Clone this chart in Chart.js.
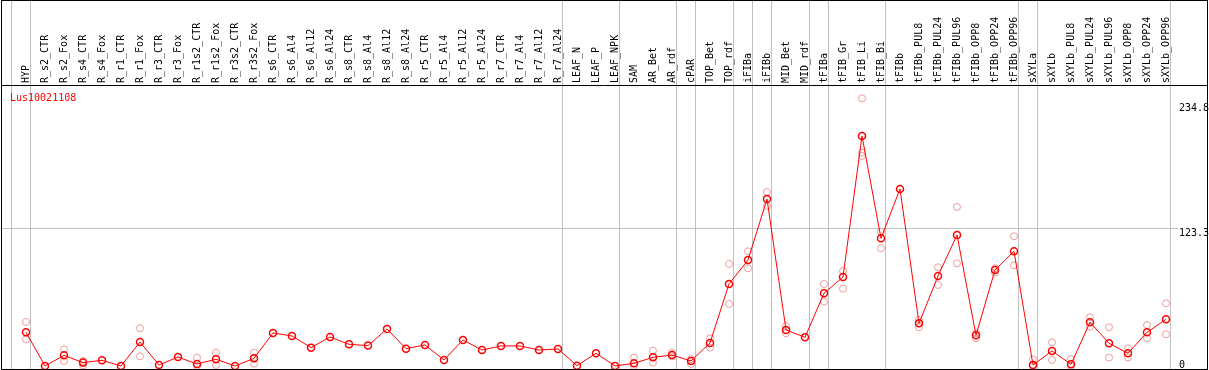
<!DOCTYPE html>
<html>
<head>
<meta charset="utf-8">
<script src="https://cdn.jsdelivr.net/npm/chart.js@4.4.1/dist/chart.umd.min.js"></script>
<style>
  html, body { margin: 0; padding: 0; background: #fff; }
  #wrap { width: 1209px; height: 370px; }
</style>
</head>
<body>
<div id="wrap"><canvas id="exprChart"></canvas></div>
<script>
// sample names, left to right
const samples = [
  'HYP',
  'R_s2_CTR', 'R_s2_Fox', 'R_s4_CTR', 'R_s4_Fox', 'R_r1_CTR', 'R_r1_Fox', 'R_r3_CTR', 'R_r3_Fox',
  'R_r1s2_CTR', 'R_r1s2_Fox', 'R_r3s2_CTR', 'R_r3s2_Fox',
  'R_s6_CTR', 'R_s6_Al4', 'R_s6_Al12', 'R_s6_Al24', 'R_s8_CTR', 'R_s8_Al4', 'R_s8_Al12', 'R_s8_Al24',
  'R_r5_CTR', 'R_r5_Al4', 'R_r5_Al12', 'R_r5_Al24', 'R_r7_CTR', 'R_r7_Al4', 'R_r7_Al12', 'R_r7_Al24',
  'LEAF_N', 'LEAF_P', 'LEAF_NPK', 'SAM', 'AR_Bet', 'AR_rdf', 'cPAR', 'TOP_Bet', 'TOP_rdf',
  'iFIBa', 'iFIBb', 'MID_Bet', 'MID_rdf', 'tFIBa', 'tFIB_Gr', 'tFIB_Li', 'tFIB_Bi',
  'tFIBb', 'tFIBb_PUL8', 'tFIBb_PUL24', 'tFIBb_PUL96', 'tFIBb_OPP8', 'tFIBb_OPP24', 'tFIBb_OPP96',
  'sXYLa', 'sXYLb', 'sXYLb_PUL8', 'sXYLb_PUL24', 'sXYLb_PUL96', 'sXYLb_OPP8', 'sXYLb_OPP24', 'sXYLb_OPP96'
];

// mean expression per sample
const meanValues = [
  30.1,
  0, 9.5, 3.0, 5.1, 0, 21.4, 0.9, 8.0,
  1.8, 6.0, 0, 6.8,
  29.5, 26.8, 16.4, 25.9, 19.4, 18.2, 33.1, 15.5,
  18.8, 5.4, 23.2, 14.3, 17.9, 17.9, 14.3, 15.2,
  0.3, 11.3, 0, 2.4, 7.7, 9.8, 4.5, 20.6, 73.3,
  94.7, 149.2, 32.2, 25.6, 65.0, 79.5, 205.5, 114.1,
  158.2, 38.1, 80.4, 117.1, 27.4, 85.8, 102.5,
  0.9, 13.4, 1.5, 39.1, 20.3, 11.3, 30.1, 41.7
];

// replicate values (null = not visible)
const rep1 = [
  39.3,
  null, 14.9, 4.5, null, null, 33.7, null, null,
  7.5, 11.9, null, 11.9,
  null, null, null, null, null, null, null, null,
  null, null, null, null, null, null, null, null,
  null, null, null, 7.5, 13.7, 11.9, 6.0, 24.7, 91.2,
  102.5, 155.5, 35.7, null, 73.3, 84.9, 239.2, 120.0,
  null, 41.1, 88.2, 142.1, 24.7, 87.3, 115.9,
  6.0, 21.2, 6.0, 43.5, 34.6, 15.8, 36.6, 56.0
];
const rep2 = [
  23.8,
  null, 4.5, 0.5, null, null, 8.6, null, null,
  0, 0.9, null, 2.1,
  null, null, null, null, null, null, null, null,
  null, null, null, null, null, null, null, null,
  null, null, null, 0, 3.0, 8.5, 1.8, 16.4, 55.4,
  87.3, 143.0, 29.2, null, 57.5, 69.1, 187.7, 105.2,
  null, 34.6, 72.4, 91.7, 29.2, 83.4, 90.0,
  0, 5.4, 0, 35.1, 7.5, 7.7, 24.7, 28.3
];
const rep3 = [
  null,
  null, null, null, null, null, null, null, null,
  null, null, null, null,
  null, null, null, null, null, null, null, null,
  null, null, null, null, null, null, null, null,
  null, null, null, null, null, null, null, null, null,
  null, null, null, null, null, null, 190.6, null,
  null, null, null, null, null, null, null,
  null, null, null, null, null, null, null, null
];

// a divider follows each of these sample indexes
const groupEnds = [-1, 0, 28, 31, 34, 35, 37, 38, 39, 41, 42, 45, 52, 53, 60];
const yTicks = [0, 123.3, 234.8];
const geneName = 'Lus10021108';

const FONT = { family: 'DejaVu Sans Mono', size: 10 };
const GRID = '#c0c0c0';

function toPoints(arr) {
  return arr.map((v, i) => ({ x: i, y: v }));
}

function noPadding(scale) {
  scale.paddingLeft = 0;
  scale.paddingRight = 0;
  scale.paddingTop = 0;
  scale.paddingBottom = 0;
}

// outer frame, header separator and gene name
const framePlugin = {
  id: 'frame',
  afterDraw(chart) {
    const ctx = chart.ctx;
    const top = chart.chartArea.top;
    ctx.save();
    ctx.strokeStyle = '#000';
    ctx.lineWidth = 1;
    ctx.strokeRect(1.5, 0.5, 1206, 369);
    ctx.beginPath();
    ctx.moveTo(1, top + 0.5);
    ctx.lineTo(1208, top + 0.5);
    ctx.stroke();
    ctx.fillStyle = '#ff0000';
    ctx.font = '10px "DejaVu Sans Mono"';
    ctx.textBaseline = 'middle';
    ctx.textAlign = 'left';
    ctx.fillText(geneName, chart.chartArea.left + 9, top + 13);
    ctx.restore();
  }
};

const repStyle = {
  type: 'line',
  showLine: false,
  pointRadius: 3.5,
  pointBorderWidth: 1,
  pointBorderColor: '#f09a9a',
  pointBackgroundColor: 'rgba(0,0,0,0)',
  borderColor: '#f09a9a',
  order: 2,
  clip: false
};

new Chart(document.getElementById('exprChart'), {
  type: 'line',
  data: {
    datasets: [
      {
        label: geneName,
        data: toPoints(meanValues),
        borderColor: '#ff0000',
        borderWidth: 1,
        pointRadius: 3.5,
        pointBorderWidth: 1.5,
        pointBorderColor: '#ff0000',
        pointBackgroundColor: 'rgba(0,0,0,0)',
        tension: 0,
        order: 1,
        clip: false
      },
      Object.assign({ label: 'rep1', data: toPoints(rep1) }, repStyle),
      Object.assign({ label: 'rep2', data: toPoints(rep2) }, repStyle),
      Object.assign({ label: 'rep3', data: toPoints(rep3) }, repStyle)
    ]
  },
  options: {
    responsive: true,
    maintainAspectRatio: false,
    animation: false,
    layout: { autoPadding: false, padding: { left: 1, right: 0, top: 0, bottom: 1 } },
    plugins: {
      tooltip: { enabled: false },
      legend: { display: false }
    },
    scales: {
      x: {
        type: 'linear',
        position: 'top',
        min: -25 / 19,
        max: 60 + 12 / 19,
        afterBuildTicks: scale => {
          const t = samples.map((s, i) => ({ value: i }));
          groupEnds.forEach(g => t.push({ value: g + 0.24 }));
          scale.ticks = t;
        },
        afterFit: scale => { scale.height = 85; noPadding(scale); },
        border: { display: false },
        grid: {
          color: c => (c.tick && Number.isInteger(c.tick.value)) ? 'rgba(0,0,0,0)' : GRID,
          lineWidth: 1,
          drawTicks: true,
          tickLength: 85
        },
        ticks: {
          autoSkip: false,
          minRotation: 90,
          maxRotation: 90,
          padding: -83,
          labelOffset: 12,
          color: '#000',
          font: FONT,
          callback: v => Number.isInteger(v) ? samples[v] : ''
        }
      },
      y: {
        type: 'linear',
        position: 'right',
        min: -2.7,
        max: 251.1,
        afterBuildTicks: scale => {
          scale.ticks = yTicks.map(v => ({ value: v }));
        },
        afterFit: scale => { scale.width = 31; noPadding(scale); },
        border: { display: false },
        grid: {
          color: c => (c.tick && c.tick.value === 123.3) ? GRID : 'rgba(0,0,0,0)',
          drawTicks: false
        },
        ticks: {
          align: 'start',
          padding: 1,
          color: '#000',
          font: FONT,
          callback: v => v === 0 ? ['0', ''] : String(v)
        }
      }
    }
  },
  plugins: [framePlugin]
});
</script>
</body>
</html>
